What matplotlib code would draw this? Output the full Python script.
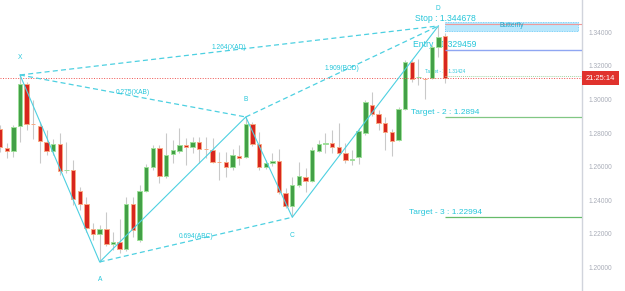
import matplotlib
matplotlib.use("Agg")
import matplotlib.pyplot as plt
from matplotlib.patches import Rectangle
import numpy as np

plt.rcParams['font.family'] = ['Liberation Sans', 'DejaVu Sans']

# ---------------- data ----------------
opens = [1.2824, 1.2711, 1.2694, 1.2842, 1.3092, 1.2856, 1.2842, 1.2747, 1.2694, 1.2735,
         1.2578, 1.2580, 1.2455, 1.2378, 1.2229, 1.2199, 1.2229, 1.2140, 1.2152, 1.2110,
         1.2378, 1.2164, 1.2455, 1.2598, 1.2711, 1.2545, 1.2676, 1.2694, 1.2729, 1.2717,
         1.2747, 1.2707, 1.2699, 1.2630, 1.2628, 1.2598, 1.2664, 1.2658, 1.2854, 1.2735,
         1.2598, 1.2622, 1.2634, 1.2443, 1.2366, 1.2491, 1.2539, 1.2515, 1.2694, 1.2735,
         1.2741, 1.2717, 1.2682, 1.2640, 1.2658, 1.2801, 1.2967, 1.2914, 1.2860, 1.2807,
         1.2759, 1.2944, 1.3223, 1.3131, 1.3124, 1.3128, 1.3313, 1.3378]
closes = [1.2717, 1.2694, 1.2836, 1.3092, 1.2854, 1.2853, 1.2753, 1.2694, 1.2735, 1.2574,
          1.2582, 1.2408, 1.2378, 1.2235, 1.2199, 1.2229, 1.2140, 1.2152, 1.2110, 1.2378,
          1.2223, 1.2455, 1.2598, 1.2711, 1.2545, 1.2670, 1.2699, 1.2729, 1.2717, 1.2747,
          1.2705, 1.2704, 1.2628, 1.2627, 1.2598, 1.2670, 1.2652, 1.2854, 1.2735, 1.2598,
          1.2622, 1.2634, 1.2449, 1.2366, 1.2491, 1.2545, 1.2515, 1.2699, 1.2735, 1.2741,
          1.2717, 1.2682, 1.2640, 1.2646, 1.2812, 1.2985, 1.2914, 1.2860, 1.2807, 1.2753,
          1.2944, 1.3223, 1.3122, 1.3136, 1.3121, 1.3313, 1.3372, 1.3128]
highs = [1.2848, 1.2741, 1.2848, 1.3146, 1.3104, 1.2997, 1.2866, 1.2818, 1.2765, 1.2801,
         1.2747, 1.2640, 1.2479, 1.2420, 1.2265, 1.2253, 1.2330, 1.2211, 1.2289, 1.2420,
         1.2420, 1.2491, 1.2616, 1.2729, 1.2729, 1.2801, 1.2759, 1.2830, 1.2771, 1.2777,
         1.2777, 1.2777, 1.2771, 1.2688, 1.2688, 1.2705, 1.2729, 1.2896, 1.2866, 1.2807,
         1.2640, 1.2682, 1.2705, 1.2473, 1.2539, 1.2628, 1.2592, 1.2717, 1.2759, 1.2801,
         1.2818, 1.2860, 1.2741, 1.2699, 1.2830, 1.2997, 1.3045, 1.2938, 1.2896, 1.2824,
         1.2955, 1.3235, 1.3235, 1.3241, 1.3125, 1.3324, 1.3438, 1.3396]
lows = [1.2688, 1.2652, 1.2658, 1.2747, 1.2818, 1.2765, 1.2622, 1.2670, 1.2670, 1.2551,
        1.2563, 1.2372, 1.2342, 1.2211, 1.2164, 1.2033, 1.2128, 1.2104, 1.2086, 1.2098,
        1.2182, 1.2152, 1.2449, 1.2580, 1.2503, 1.2533, 1.2622, 1.2682, 1.2610, 1.2682,
        1.2622, 1.2652, 1.2622, 1.2521, 1.2539, 1.2580, 1.2610, 1.2652, 1.2723, 1.2580,
        1.2586, 1.2604, 1.2438, 1.2354, 1.2301, 1.2479, 1.2449, 1.2509, 1.2688, 1.2682,
        1.2682, 1.2670, 1.2622, 1.2610, 1.2616, 1.2789, 1.2902, 1.2818, 1.2699, 1.2664,
        1.2753, 1.2938, 1.3104, 1.3086, 1.3003, 1.3122, 1.3253, 1.3098]

# harmonic pattern pivots (bar index, price)
pivot_names = ['X', 'A', 'B', 'C', 'D']
pivot_bars = [3, 15, 37, 44, 66]
pivot_prices = [1.3146, 1.2033, 1.2896, 1.2299, 1.3438]
ratio_pairs = [(0, 2), (1, 3), (2, 4), (0, 4)]
ratio_labels = ['0.275(XAB)', '0.694(ABC)', '1.909(BCD)', '1.264(XAD)']

stop_price = 1.344678
entry_price = 1.329459
target_prices = [1.31424, 1.2894, 1.22994]
target_labels = ['Target - 1 : 1.31424', 'Target - 2 : 1.2894', 'Target - 3 : 1.22994']
stop_label = 'Stop : 1.344678'
entry_label = 'Entry : 1.329459'
zone_top, zone_bottom = 1.34631, 1.34078
zone_label = 'Butterfly'
current_price = 1.3127
countdown = '21:25:14'
yticks = [1.20, 1.22, 1.24, 1.26, 1.28, 1.30, 1.32, 1.34]

# ---------------- figure ----------------
fig = plt.figure(figsize=(6.25, 2.91), dpi=100)
ax = fig.add_axes([0, 0, 582 / 625, 1])
ax.set_facecolor('white')
x_right = 87.63
ax.set_xlim(-0.012, x_right)
ax.set_ylim(1.18601, 1.35923)

o = np.array(opens); c = np.array(closes); h = np.array(highs); l = np.array(lows)
idx = np.arange(len(o))
up = c >= o

# wicks
ax.vlines(idx, l, h, color='#c9c9c9', lw=0.8, zorder=2)
# bodies
body_bottom = np.minimum(o, c)
body_h = np.maximum(np.abs(c - o), 0.0003)
ax.bar(idx[up], body_h[up], bottom=body_bottom[up], width=0.66,
       color='#43a047', edgecolor='#9ee09a', lw=0.7, zorder=3)
ax.bar(idx[~up], body_h[~up], bottom=body_bottom[~up], width=0.66,
       color='#d8261e', edgecolor='#f7a983', lw=0.7, zorder=3)

# current price line
ax.axhline(current_price, color='#ef5350', lw=0.7, ls=(0, (1, 1.6)), zorder=4)

cyan = '#4dd0e1'
tcyan = '#26c6da'
# pattern zigzag
ax.plot(pivot_bars, pivot_prices, color=cyan, lw=0.8, zorder=5)
# ratio dashed lines
for (i, j), lab in zip(ratio_pairs, ratio_labels):
    ax.plot([pivot_bars[i], pivot_bars[j]], [pivot_prices[i], pivot_prices[j]],
            color=cyan, lw=0.9, ls=(0, (4, 2.6)), zorder=5)
    mx = (pivot_bars[i] + pivot_bars[j]) / 2
    my = (pivot_prices[i] + pivot_prices[j]) / 2
    ax.annotate(lab, (mx, my), xytext=(0, 3), textcoords='offset pixels',
                ha='center', va='center', fontsize=4.8, color=tcyan, zorder=6)

# pivot labels
for k, (nm, bx, py) in enumerate(zip(pivot_names, pivot_bars, pivot_prices)):
    dy = 17 if k % 2 == 0 else -18
    ax.annotate(nm, (bx, py), xytext=(0, dy), textcoords='offset pixels',
                ha='center', va='center', fontsize=4.8, color=tcyan, zorder=6)

# trade levels
last = len(o) - 1
ax.add_patch(Rectangle((last, zone_bottom), 87.0 - last, zone_top - zone_bottom,
                       facecolor='#b3e5fc', edgecolor='#4fc3f7', lw=0.6,
                       ls=(0, (1, 1)), alpha=0.9, zorder=4))
ax.text((last + 87.0) / 2, zone_top - 0.0002, zone_label, ha='center', va='top',
        fontsize=4.8, color='#1fa8c9', zorder=6)
ax.hlines(stop_price, last, x_right, color='#ef9a9a', lw=0.8, zorder=5)
ax.hlines(entry_price, last, x_right, color='#8fa6f2', lw=1.0, zorder=5)
ax.hlines(target_prices[0], last, x_right, color='#a5d6a7', lw=0.7, ls=(0, (1, 1)), zorder=5)
ax.hlines(target_prices[1], last, x_right, color='#81c784', lw=0.9, zorder=5)
ax.hlines(target_prices[2], last, x_right, color='#66bb6a', lw=0.9, zorder=5)

for lab, price, fs in [(stop_label, stop_price, 6.2), (entry_label, entry_price, 6.2),
                       (target_labels[0], target_prices[0], 3.3),
                       (target_labels[1], target_prices[1], 6.0),
                       (target_labels[2], target_prices[2], 6.0)]:
    ax.annotate(lab, (last, price), xytext=(0, 1.5), textcoords='offset pixels',
                ha='center', va='bottom', fontsize=fs, color=tcyan, zorder=1)

# axis styling
for s in ['left', 'top', 'bottom']:
    ax.spines[s].set_visible(False)
ax.spines['right'].set_color('#d1d4dc')
ax.spines['right'].set_linewidth(1.0)
ax.set_xticks([])
ax.yaxis.tick_right()
ax.set_yticks(yticks)
ax.set_yticklabels([f'{v:.5f}' for v in yticks])
ax.tick_params(axis='y', length=0, pad=4.5, labelsize=4.8, labelcolor='#a9adb8')

# countdown label
ax.annotate(countdown, (1.0, current_price), xycoords=('axes fraction', 'data'),
            xytext=(4, 0), textcoords='offset pixels', ha='left', va='center',
            fontsize=5.4, color='white', zorder=10,
            bbox=dict(boxstyle='square,pad=0.5', fc='#e0322d', ec='none'))

fig.savefig('out.png', dpi=100, facecolor='white')
